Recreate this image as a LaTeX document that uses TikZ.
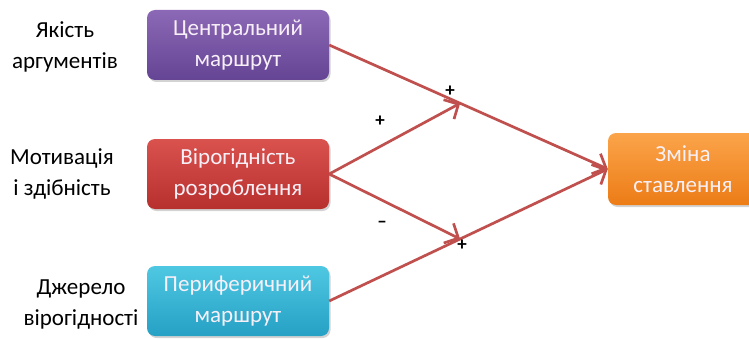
\documentclass[tikz,border=0pt]{standalone}
\usepackage{fontspec}
\setmainfont{Carlito}
\usetikzlibrary{arrows.meta,shadows}

\definecolor{arrowred}{RGB}{192,80,77}
\definecolor{purpletop}{RGB}{140,105,182}
\definecolor{purplebot}{RGB}{100,68,148}
\definecolor{redtop}{RGB}{218,82,78}
\definecolor{redbot}{RGB}{184,48,46}
\definecolor{cyantop}{RGB}{78,200,226}
\definecolor{cyanbot}{RGB}{38,160,196}
\definecolor{orangetop}{RGB}{251,164,74}
\definecolor{orangebot}{RGB}{236,124,22}
\definecolor{boxtext}{RGB}{248,240,248}

\begin{document}
\begin{tikzpicture}[x=1pt,y=1pt]
\tikzstyle{every node} = [font=\fontsize{23}{31}\selectfont, align=center]
\tikzstyle{box} = [rectangle, rounded corners=8pt, minimum width=182pt, minimum height=70pt, text=boxtext,
  drop shadow={opacity=0.35, shadow xshift=1.5pt, shadow yshift=-2pt}]
\tikzstyle{link} = [draw=arrowred, line width=2.7pt, -{Straight Barb[length=11pt,width=22pt]}]
\tikzstyle{sign} = [font=\fontsize{19}{19}\selectfont\bfseries]
\useasboundingbox (0,0) rectangle (749,338);

\node[box, top color=purpletop, bottom color=purplebot] (central) at (238,293) {Центральний\\маршрут};
\node[box, top color=redtop, bottom color=redbot] (credib) at (238,164) {Вірогідність\\розроблення};
\node[box, top color=cyantop, bottom color=cyanbot] (periph) at (238,37) {Периферичний\\маршрут};
\node[box, top color=orangetop, bottom color=orangebot, minimum width=150pt, minimum height=72pt] (change) at (683,169) {Зміна\\ставлення};

\node (quality) at (65,291) {Якість\\аргументів};
\node (motive) at (62,164) {Мотивація\\і здібність};
\node (source) at (81,33) {Джерело\\вірогідності};

\path (central.east) -- (change.west) coordinate[pos=0.47] (upper);
\path (periph.east) -- (change.west) coordinate[pos=0.47] (lower);

\draw [link] (central.east) -- (change.west);
\draw [link] (periph.east) -- (change.west);
\draw [link] (credib.east) -- (upper);
\draw [link] (credib.east) -- (lower);

\node[sign] (plustop) at (450,247) {+};
\node[sign] (plusup) at (380,217) {+};
\node[sign] (minusdown) at (382,114) {–};
\node[sign] (plusbot) at (462,93) {+};
\end{tikzpicture}
\end{document}
